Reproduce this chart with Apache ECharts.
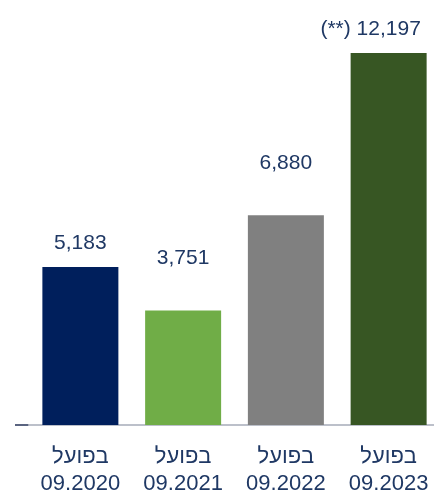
<!DOCTYPE html>
<html>
<head>
<meta charset="utf-8">
<script src="https://cdn.jsdelivr.net/npm/echarts@6/dist/echarts.min.js"></script>
<style>
  html, body { margin: 0; padding: 0; background: #fff; }
  #chart { width: 434px; height: 491px; }
</style>
</head>
<body>
<div id="chart"></div>
<script>
// data
var categories = ['בפועל\n09.2020', 'בפועל\n09.2021', 'בפועל\n09.2022', 'בפועל\n09.2023']
var values = [5183, 3751, 6880, 12197]
var barColors = ['#001f5c', '#70ad47', '#808080', '#375623']
var labelNotes = ['', '', '', '(**) ']

var textColor = '#1f3864'
var fontFamily = '"Liberation Sans", "DejaVu Sans", sans-serif'

// label gap above each bar (label sits higher on some bars in the original)
var labelGaps = [13, 42, 41, 13]

var chart = echarts.init(document.getElementById('chart'))

var seriesData = values.map(function(v, i) {
  return {
    value: v,
    itemStyle: { color: barColors[i] },
    label: {
      distance: labelGaps[i],
      offset: labelNotes[i] ? [-18, 0] : [0, 0]
    }
  }
})

chart.setOption({
  animation: false,
  grid: {
    left: 29,
    right: -6,
    top: 53,
    bottom: 66,
    outerBoundsMode: 'none'
  },
  xAxis: {
    type: 'category',
    data: categories,
    axisLine: {
      show: true,
      lineStyle: { color: '#bcc0ca', width: 2 }
    },
    axisTick: { show: false },
    axisLabel: {
      interval: 0,
      margin: 18,
      color: textColor,
      fontSize: 22,
      lineHeight: 27,
      fontFamily: fontFamily
    }
  },
  yAxis: {
    type: 'value',
    min: 0,
    max: 12197,
    show: false,
    splitLine: { show: false }
  },
  graphic: [{
    type: 'line',
    shape: { x1: 15, y1: 425, x2: 29, y2: 425 },
    style: { stroke: '#5a6480', lineWidth: 2 }
  }],
  series: [{
    type: 'bar',
    barWidth: 76,
    data: seriesData,
    label: {
      show: true,
      position: 'top',
      color: textColor,
      fontSize: 21,
      fontFamily: fontFamily,
      formatter: function(p) {
        return labelNotes[p.dataIndex] + p.value.toLocaleString('en-US')
      }
    }
  }]
})
</script>
</body>
</html>
